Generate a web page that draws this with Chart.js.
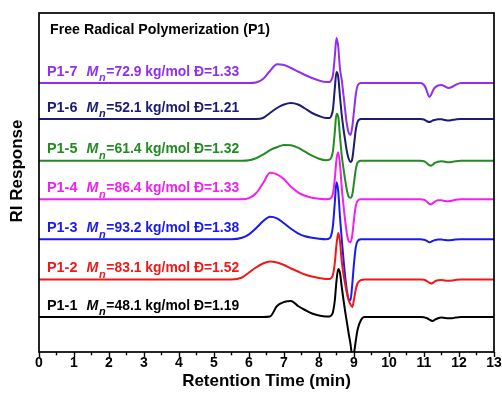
<!DOCTYPE html>
<html><head><meta charset="utf-8">
<script src="https://cdn.jsdelivr.net/npm/chart.js@4.4.1/dist/chart.umd.min.js"></script>
<style>html,body{margin:0;padding:0;background:#fff;}canvas{display:block;}</style>
</head><body>
<canvas id="c" width="502" height="399"></canvas>
<script>
// ---- data ----
const retentionTime = [0, 5.5, 5.8, 6.0, 6.2, 6.4, 6.6, 6.8, 7.0, 7.2, 7.4, 7.6, 7.8, 8.0, 8.2,
  8.3, 8.35, 8.4, 8.45, 8.5, 8.55, 8.6, 8.65, 8.7, 8.75, 8.8, 8.85, 8.9, 8.95, 9.0, 9.05, 9.1, 9.2, 9.3,
  10.9, 11.0, 11.05, 11.1, 11.15, 11.2, 11.25, 11.3, 11.4, 11.5, 11.6, 11.7, 11.8, 11.9, 12.05, 13];

const sampleNames = ['P1-1', 'P1-2', 'P1-3', 'P1-4', 'P1-5', 'P1-6', 'P1-7'];
const mnValues = [48.1, 83.1, 93.2, 86.4, 61.4, 52.1, 72.9];
const dispersity = [1.19, 1.52, 1.38, 1.33, 1.32, 1.21, 1.33];
const traceOffset = [35, 72.5, 112.7, 152.7, 191.3, 233, 269];
const xTickValues = [0, 1, 2, 3, 4, 5, 6, 7, 8, 9, 10, 11, 12, 13];

const riP1_1 = [0, 0, 0, 0, 0, 0, 0.5, 11, 15, 16, 11, 7, 3.5, 1.5, 0.5,
  0.5, 1.5, 5, 16, 36, 48, 44, 30, 17, 5, -6, -17, -27, -39, -36, -24, -13, -3, 0,
  0, -0.2, -0.8, -1.5, -2.5, -3.5, -4, -3, -1.2, -0.6, -1, -1.2, -1.2, -0.6, 0, 0];
const riP1_2 = [0, 0, 2, 7, 12, 16, 18, 17, 14.5, 11, 8, 5, 3, 1.5, 0.5,
  0.5, 1.5, 5, 16, 35, 46.5, 38, 18, 5, -5, -14, -21, -25, -27.5, -20, -10, -4, -0.5, 0,
  0, -0.3, -1, -2, -3.2, -4, -3.5, -2.2, -0.8, -0.5, -1, -1.2, -1, -0.5, 0, 0];
const riP1_3 = [0, 0, 1.5, 5, 11, 18, 22.5, 21, 16, 10.5, 6, 3, 1.5, 0.5, 0,
  1, 4, 14, 36, 57, 48, 22, 0, -20, -38, -52, -60, -61, -45, -24, -8, -2, 0, 0,
  0, -0.5, -1, -2, -3, -2.5, -1.5, -1, -0.3, -0.3, -0.8, -1, -0.8, -0.3, 0, 0];
const riP1_4 = [0, 0, 0, 1.2, 6, 16, 26.5, 25, 20, 12.5, 7, 3.5, 1.5, 0.5, 0,
  0.5, 1.5, 6, 20, 40, 47, 35, 12, -6, -22, -35, -42, -43, -36, -20, -7, -1.5, 0, 0,
  0, -0.5, -1.5, -3, -4.5, -5, -4, -2.5, -1, -1, -1.7, -2, -1.5, -0.5, 0, 0];
const riP1_5 = [0, 0, 0, 0.5, 2.5, 6, 10.5, 13.5, 15.8, 15.5, 13, 9, 5, 2, 0.5,
  1, 3, 10, 28, 47, 44, 24, 5, -8, -20, -30, -36, -37, -34, -22, -9, -2, 0, 0,
  0, -0.5, -1.5, -3, -4.5, -5, -4, -2.5, -1, -0.5, -1, -1.5, -1.2, -0.5, 0, 0];
const riP1_6 = [0, 0, 0, 0, 0, 1, 6, 11, 14.5, 16, 14.5, 10.5, 6, 3, 1,
  1, 3, 10, 30, 47, 42, 22, 4, -10, -22, -33, -40, -43, -40, -26, -11, -3, 0, 0,
  0, -0.5, -1.5, -2.5, -3, -2.5, -1.5, -1, -0.3, -0.3, -1, -1.5, -1, -0.5, 0, 0];
const riP1_7 = [0, 0, 0, 0, 0.5, 4, 12, 18.8, 18, 15, 11.5, 8, 5, 2.5, 1,
  1, 3, 8, 26, 45, 36, 14, 3, -12, -28, -42, -50, -52, -44, -28, -12, -3, 0, 0,
  0, -2, -5, -10, -14, -12, -8, -5, -2.5, -2, -3.5, -5, -4, -2, 0, 0];

const traces = [riP1_1, riP1_2, riP1_3, riP1_4, riP1_5, riP1_6, riP1_7];
const traceColors = ['#000000', '#F01818', '#1A1AEE', '#F020F0', '#228B22', '#1C1C72', '#9030EE'];

const FONT = '"Liberation Sans", Arial, Helvetica, sans-serif';

const datasets = traces.map((vals, k) => ({
  label: sampleNames[k],
  data: retentionTime.map((t, i) => ({ x: t, y: traceOffset[k] + vals[i] })),
  borderColor: traceColors[k],
  borderWidth: 2,
  pointRadius: 0,
  fill: false,
  cubicInterpolationMode: 'monotone'
}));

const decorPlugin = {
  id: 'decor',
  afterDraw(chart) {
    const ctx = chart.ctx;
    const a = chart.chartArea;
    const xs = chart.scales.x, ys = chart.scales.y;
    ctx.save();
    // frame
    ctx.strokeStyle = '#000';
    ctx.lineWidth = 1.7;
    ctx.strokeRect(a.left, a.top, a.right - a.left, a.bottom - a.top);
    // minor ticks
    ctx.lineWidth = 1.4;
    for (let v = 0.5; v < 13; v += 1) {
      const px = xs.getPixelForValue(v);
      ctx.beginPath(); ctx.moveTo(px, a.bottom); ctx.lineTo(px, a.bottom + 3.3); ctx.stroke();
    }
    // header text
    ctx.fillStyle = '#000';
    ctx.textBaseline = 'alphabetic';
    ctx.textAlign = 'left';
    ctx.font = 'bold 14.2px ' + FONT;
    ctx.fillText('Free Radical Polymerization (P1)', a.left + 11, a.top + 21);
    // trace labels
    for (let k = 0; k < sampleNames.length; k++) {
      const by = ys.getPixelForValue(traceOffset[k]) - 7.3;
      const x0 = a.left + 8;
      ctx.fillStyle = traceColors[k];
      ctx.font = 'bold 14.4px ' + FONT;
      ctx.fillText(sampleNames[k], x0, by);
      const mx = x0 + 39.5;
      ctx.font = 'italic bold 14.2px ' + FONT;
      ctx.fillText('M', mx, by);
      const nx = mx + 12.6;
      ctx.font = 'italic bold 11px ' + FONT;
      ctx.fillText('n', nx, by + 5.5);
      const ex = nx + ctx.measureText('n').width + 0.5;
      ctx.font = 'bold 13.9px ' + FONT;
      ctx.fillText('=' + mnValues[k].toFixed(1) + ' kg/mol \u0110=' + dispersity[k].toFixed(2), ex, by);
    }
    // y axis title
    ctx.fillStyle = '#000';
    ctx.font = 'bold 17px ' + FONT;
    ctx.translate(17, 171);
    ctx.rotate(-Math.PI / 2);
    ctx.textAlign = 'center';
    ctx.textBaseline = 'middle';
    ctx.fillText('RI Response', 0, 0);
    ctx.restore();
  }
};

new Chart(document.getElementById('c'), {
  type: 'line',
  data: { datasets },
  options: {
    responsive: false,
    animation: false,
    devicePixelRatio: 1,
    layout: { padding: { top: 13, right: 8, left: 39, bottom: 0 } },
    plugins: { legend: { display: false }, tooltip: { enabled: false } },
    scales: {
      x: {
        type: 'linear', min: 0, max: 13,
        afterBuildTicks: s => { s.ticks = xTickValues.map(v => ({ value: v })); },
        ticks: { font: { family: FONT, size: 14, weight: 'bold' }, color: '#000', padding: -2, maxRotation: 0, autoSkip: false },
        grid: { display: true, drawOnChartArea: false, drawTicks: true, tickLength: 5, tickColor: '#000', tickWidth: 1.4 },
        border: { display: false },
        title: { display: true, text: 'Retention Time (min)', font: { family: FONT, size: 17, weight: 'bold' }, color: '#000', padding: { top: 0, bottom: 7 } },
        afterFit: s => { s.height = 47; }
      },
      y: { type: 'linear', display: false, min: 0, max: 339 }
    }
  },
  plugins: [decorPlugin]
});
</script>
</body></html>
